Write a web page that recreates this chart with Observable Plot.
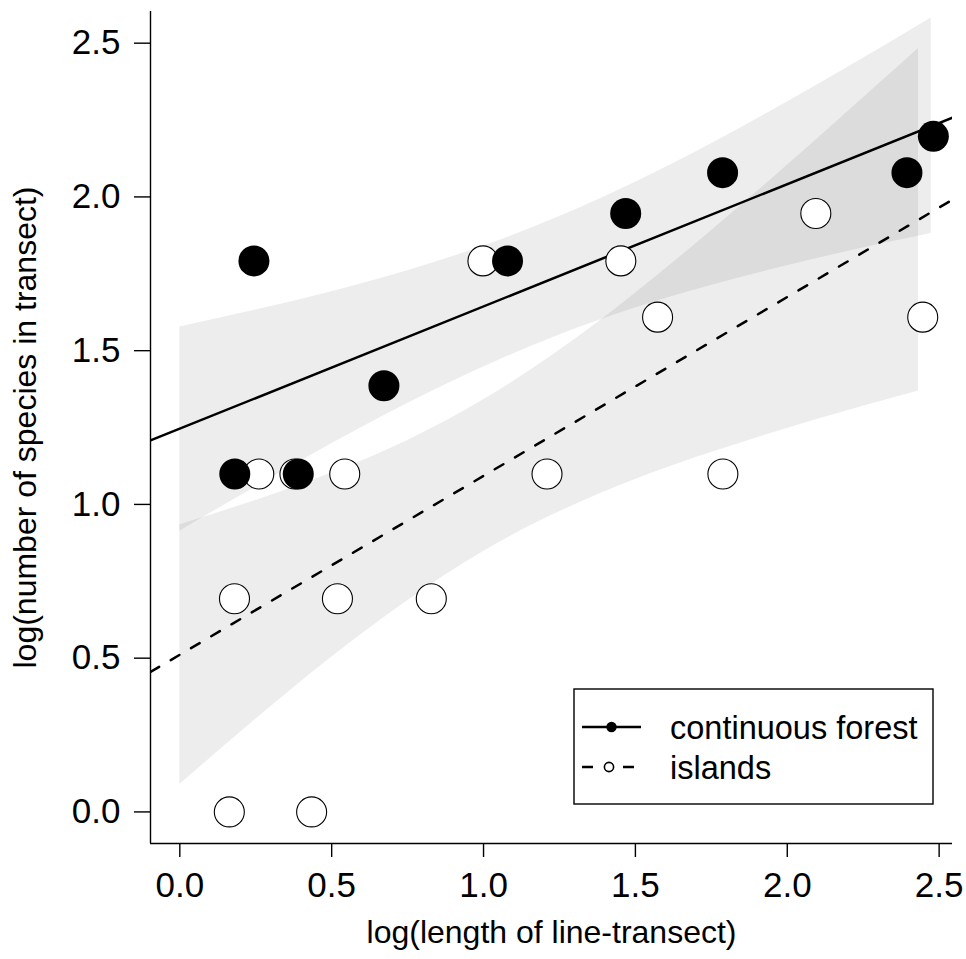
<!DOCTYPE html>
<html><head><meta charset="utf-8">
<script src="https://cdn.jsdelivr.net/npm/d3@7"></script>
<script src="https://cdn.jsdelivr.net/npm/@observablehq/plot@0.6"></script>
<style>
body{margin:0;background:#fff;}
#wrap{position:relative;width:966px;height:959px;}
#legend{position:absolute;left:0;top:0;pointer-events:none;}
</style></head><body><div id="wrap"></div>
<script>
// ---- data ----
const forestX = [0.181, 0.244, 0.390, 0.672, 1.079, 1.468, 1.787, 2.394, 2.481];
const forestY = [1.099, 1.792, 1.099, 1.386, 1.792, 1.946, 2.079, 2.079, 2.197];
const islandX = [0.163, 0.434, 0.180, 0.519, 0.828, 0.260, 0.379, 0.543, 1.209, 1.788, 1.573, 2.446, 0.998, 1.452, 2.094];
const islandY = [0, 0, 0.693, 0.693, 0.693, 1.099, 1.099, 1.099, 1.099, 1.099, 1.609, 1.609, 1.792, 1.792, 1.946];

// fitted lines (values at the left and right edge of the plot)
const fitX = [-0.0965, 2.544];
const forestFitY = [1.208, 2.258];
const islandFitY = [0.455, 1.991];

// confidence bands read at regular x positions
const bandForestX  = [0, 0.25, 0.5, 0.75, 1.0, 1.25, 1.5, 1.75, 2.0, 2.25, 2.474];
const bandForestLo = [0.913, 1.057, 1.197, 1.328, 1.447, 1.551, 1.639, 1.712, 1.776, 1.834, 1.881];
const bandForestHi = [1.577, 1.632, 1.692, 1.760, 1.840, 1.936, 2.048, 2.173, 2.309, 2.451, 2.582];
const bandIslandX  = [0, 0.25, 0.5, 0.75, 1.0, 1.25, 1.5, 1.75, 2.0, 2.25, 2.432];
const bandIslandLo = [0.089, 0.301, 0.503, 0.687, 0.847, 0.976, 1.081, 1.169, 1.247, 1.319, 1.369];
const bandIslandHi = [0.934, 1.013, 1.102, 1.208, 1.340, 1.501, 1.687, 1.890, 2.103, 2.322, 2.483];

const xTicks = [0, 0.5, 1.0, 1.5, 2.0, 2.5];
const yTicks = [0, 0.5, 1.0, 1.5, 2.0, 2.5];
const xDomain = [-0.0965, 2.544];
const yDomain = [-0.1027, 2.603];
const xTitle = "log(length of line-transect)";
const yTitle = "log(number of species in transect)";
const legendLabels = ["continuous forest", "islands"];

// ---- tables ----
const forest = forestX.map((x, i) => ({x, y: forestY[i]}));
const islands = islandX.map((x, i) => ({x, y: islandY[i]}));
const forestFit = fitX.map((x, i) => ({x, y: forestFitY[i]}));
const islandFit = fitX.map((x, i) => ({x, y: islandFitY[i]}));
const bandForest = bandForestX.map((x, i) => ({x, lo: bandForestLo[i], hi: bandForestHi[i]}));
const bandIsland = bandIslandX.map((x, i) => ({x, lo: bandIslandLo[i], hi: bandIslandHi[i]}));

const FONT = "'Liberation Sans', Arial, Helvetica, sans-serif";
const fmt = d3.format(".1f");

const chart = Plot.plot({
  width: 966, height: 959,
  marginLeft: 150, marginRight: 14, marginTop: 11, marginBottom: 116,
  style: {fontFamily: FONT, background: "white", color: "black"},
  x: {domain: xDomain},
  y: {domain: yDomain},
  marks: [
    Plot.areaY(bandForest, {x: "x", y1: "lo", y2: "hi", fill: "black", fillOpacity: 0.07, curve: "natural"}),
    Plot.areaY(bandIsland, {x: "x", y1: "lo", y2: "hi", fill: "black", fillOpacity: 0.07, curve: "natural"}),
    Plot.line(forestFit, {x: "x", y: "y", stroke: "black", strokeWidth: 2.5, clip: true}),
    Plot.line(islandFit, {x: "x", y: "y", stroke: "black", strokeWidth: 2.5, strokeDasharray: "10,13.5", clip: true}),
    Plot.dot(islands, {x: "x", y: "y", r: 15, fill: "white", stroke: "black", strokeWidth: 1.1}),
    Plot.dot(forest, {x: "x", y: "y", r: 15.5, fill: "black"}),
    Plot.ruleX([xDomain[0]], {stroke: "black", strokeWidth: 1.4}),
    Plot.ruleY([yDomain[0]], {stroke: "black", strokeWidth: 1.4}),
    Plot.axisX({ticks: xTicks, tickFormat: fmt, tickSize: 14, tickPadding: 14.5, fontSize: 35, label: null, strokeWidth: 1.4}),
    Plot.axisY({ticks: yTicks, tickFormat: fmt, tickSize: 16, tickPadding: 14, fontSize: 35, label: null, strokeWidth: 1.4}),
    Plot.text([xTitle], {text: d => d, frameAnchor: "bottom", textAnchor: "middle", dy: 99, lineAnchor: "bottom", fontSize: 32, fill: "black"}),
    Plot.text([yTitle], {text: d => d, frameAnchor: "left", textAnchor: "middle", dx: -115, rotate: -90, lineAnchor: "bottom", fontSize: 32, fill: "black"})
  ]
});
const wrap = document.getElementById("wrap");
wrap.appendChild(chart);

// ---- legend (inside the plot area, bottom right) ----
const lg = d3.select(wrap).append("svg").attr("id", "legend")
  .attr("width", 966).attr("height", 959);
lg.append("rect").attr("x", 574).attr("y", 689).attr("width", 359).attr("height", 115)
  .attr("fill", "white").attr("stroke", "black").attr("stroke-width", 1.4);
const rows = [727, 767];
// row 1: solid line with filled dot
lg.append("line").attr("x1", 582).attr("x2", 641).attr("y1", rows[0]).attr("y2", rows[0])
  .attr("stroke", "black").attr("stroke-width", 2.5);
lg.append("circle").attr("cx", 611.5).attr("cy", rows[0]).attr("r", 5.2).attr("fill", "black");
// row 2: dashed line with open dot
lg.append("line").attr("x1", 582).attr("x2", 641).attr("y1", rows[1]).attr("y2", rows[1])
  .attr("stroke", "black").attr("stroke-width", 2.5).attr("stroke-dasharray", "11,30");
lg.append("circle").attr("cx", 609).attr("cy", rows[1]).attr("r", 4.6)
  .attr("fill", "white").attr("stroke", "black").attr("stroke-width", 1.6);
legendLabels.forEach((t, i) => {
  lg.append("text").attr("x", 670).attr("y", rows[i] + 12)
    .attr("font-family", FONT).attr("font-size", 32.5).attr("fill", "black").text(t);
});
</script>
</body></html>
